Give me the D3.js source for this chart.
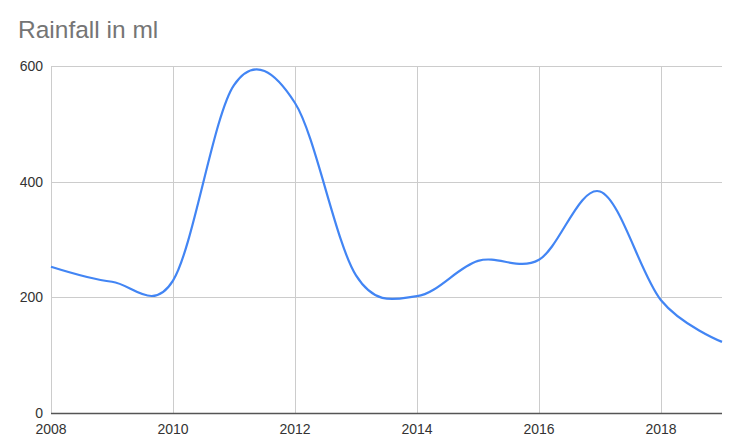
<!DOCTYPE html>
<html>
<head>
<meta charset="utf-8">
<script src="https://cdn.jsdelivr.net/npm/d3@7"></script>
<style>
  html, body { margin: 0; padding: 0; background: #fff; }
  svg { display: block; }
</style>
</head>
<body>
<svg id="chart" width="737" height="447"></svg>
<script>
const years = [2008, 2009, 2010, 2011, 2012, 2013, 2014, 2015, 2016, 2017, 2018, 2019];
const rainfall = [253, 227, 229, 567, 536, 238, 202, 263, 265, 383, 195, 123];
const xTicks = [2008, 2010, 2012, 2014, 2016, 2018];
const yTicks = [0, 200, 400, 600];
const title = "Rainfall in ml";

(function () {
const svg = d3.select("#chart");
const pl = 51, pr = 722, pt = 66, pb = 413;

const x = d3.scaleLinear().domain([2008, 2019]).range([pl, pr]);
const y = d3.scaleLinear().domain([0, 600]).range([pb, pt]);

const font = "Arial, 'Liberation Sans', sans-serif";

// title
svg.append("text")
  .attr("x", 18).attr("y", 38)
  .attr("font-family", font).attr("font-size", 24.5)
  .attr("fill", "#757575")
  .text(title);

// horizontal gridlines
svg.append("g").selectAll("line").data(yTicks.filter(d => d > 0)).join("line")
  .attr("x1", pl).attr("x2", pr)
  .attr("y1", d => Math.round(y(d)) + 0.5).attr("y2", d => Math.round(y(d)) + 0.5)
  .attr("stroke", "#cccccc").attr("stroke-width", 1);

// vertical gridlines
svg.append("g").selectAll("line").data(xTicks).join("line")
  .attr("x1", d => Math.round(x(d)) + 0.5).attr("x2", d => Math.round(x(d)) + 0.5)
  .attr("y1", pt).attr("y2", pb)
  .attr("stroke", "#cccccc").attr("stroke-width", 1);

// y labels
svg.append("g").selectAll("text").data(yTicks).join("text")
  .attr("x", 43).attr("y", d => y(d) + 5)
  .attr("text-anchor", "end")
  .attr("font-family", font).attr("font-size", 14)
  .attr("fill", "#333333")
  .text(d => d);

// x labels
svg.append("g").selectAll("text").data(xTicks).join("text")
  .attr("x", d => x(d)).attr("y", 434)
  .attr("text-anchor", "middle")
  .attr("font-family", font).attr("font-size", 14)
  .attr("fill", "#333333")
  .text(d => d);

// baseline
svg.append("line")
  .attr("x1", pl).attr("x2", pr)
  .attr("y1", pb + 0.5).attr("y2", pb + 0.5)
  .attr("stroke", "#555555").attr("stroke-width", 1.5);

// line
const line = d3.line()
  .x((d, i) => x(years[i]))
  .y(d => y(d))
  .curve(d3.curveCardinal.tension(0));

svg.append("path")
  .datum(rainfall)
  .attr("d", line)
  .attr("fill", "none")
  .attr("stroke", "#4285f4")
  .attr("stroke-width", 2.2)
  .attr("stroke-linejoin", "round");
})();
</script>
</body>
</html>
